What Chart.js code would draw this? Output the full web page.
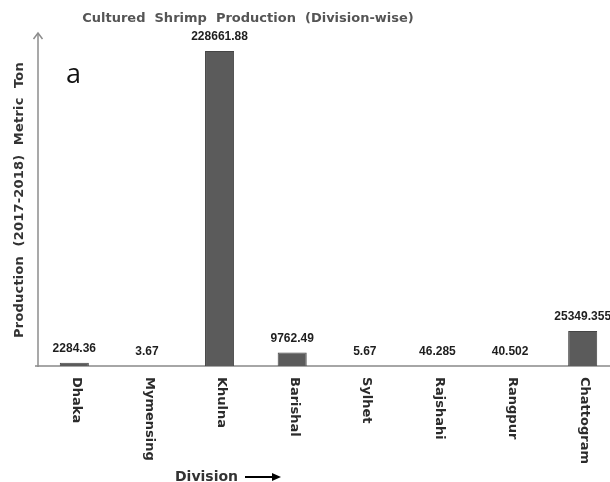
<!DOCTYPE html>
<html lang="en">
<head>
  <meta charset="UTF-8">
  <title>Cultured Shrimp Production (Division-wise)</title>
  <script src="https://cdn.jsdelivr.net/npm/chart.js@4"></script>
  <style>
    body {
      margin: 0;
      padding: 0;
      background-color: #fff;
      overflow: hidden;
    }
    #chart {
      display: block;
    }
  </style>
</head>
<body>
  <canvas id="chart" width="630" height="482"></canvas>

  <script>
    // Dados
    const divisions = ['Dhaka', 'Mymensing', 'Khulna', 'Barishal', 'Sylhet', 'Rajshahi', 'Rangpur', 'Chattogram'];
    const production = [2284.36, 3.67, 228661.88, 9762.49, 5.67, 46.285, 40.502, 25349.355];
    const valueLabels = ['2284.36', '3.67', '228661.88', '9762.49', '5.67', '46.285', '40.502', '25349.355'];

    const titleText = 'Cultured  Shrimp  Production  (Division-wise)';
    const yTitleText = 'Production  (2017-2018)  Metric  Ton';
    const xTitleText = 'Division';
    const panelLetter = 'a';

    const FONT = '"Liberation Sans", Arial, sans-serif';
    const HEAVY = '"DejaVu Sans", sans-serif';

    // Plugin para desenhar eixos, rótulos e textos
    const decorations = {
      id: 'decorations',
      beforeDatasetsDraw(chart) {
        const ctx = chart.ctx;
        const area = chart.chartArea;
        ctx.save();
        // linha de base (eixo x)
        ctx.strokeStyle = '#a6a6a6';
        ctx.lineWidth = 2;
        ctx.beginPath();
        ctx.moveTo(area.left - 3, area.bottom);
        ctx.lineTo(chart.width, area.bottom);
        ctx.stroke();
        ctx.restore();
      },
      afterDatasetsDraw(chart) {
        const ctx = chart.ctx;
        const area = chart.chartArea;
        const xScale = chart.scales.x;
        const meta = chart.getDatasetMeta(0);

        ctx.save();
        // eixo y com seta
        ctx.strokeStyle = '#8c8c8c';
        ctx.lineWidth = 1.5;
        ctx.beginPath();
        ctx.moveTo(area.left, area.bottom + 1);
        ctx.lineTo(area.left, area.top);
        ctx.stroke();
        ctx.beginPath();
        ctx.moveTo(area.left - 4.5, area.top + 6);
        ctx.lineTo(area.left, area.top);
        ctx.lineTo(area.left + 4.5, area.top + 6);
        ctx.stroke();

        // valores acima das barras
        ctx.fillStyle = '#1e1e1e';
        ctx.font = 'bold 12px ' + FONT;
        ctx.textAlign = 'center';
        ctx.textBaseline = 'middle';
        meta.data.forEach((bar, i) => {
          ctx.fillText(valueLabels[i], bar.x, bar.y - 14);
        });

        // rótulos das categorias (rotacionados no sentido horário)
        ctx.fillStyle = '#2b2b2b';
        ctx.font = 'bold 13px ' + HEAVY;
        ctx.textAlign = 'left';
        ctx.textBaseline = 'middle';
        divisions.forEach((name, i) => {
          const x = xScale.getPixelForValue(i);
          ctx.save();
          ctx.translate(x + 2, area.bottom + 11);
          ctx.rotate(Math.PI / 2);
          ctx.fillText(name, 0, 0);
          ctx.restore();
        });

        // título do eixo y
        ctx.fillStyle = '#333';
        ctx.font = 'bold 13px ' + HEAVY;
        ctx.letterSpacing = '0.2px';
        ctx.textAlign = 'center';
        ctx.save();
        ctx.translate(20, 200);
        ctx.rotate(-Math.PI / 2);
        ctx.fillText(yTitleText, 0, 0);
        ctx.restore();

        // título do eixo x com seta
        ctx.letterSpacing = '0px';
        ctx.font = 'bold 14px ' + HEAVY;
        ctx.textAlign = 'left';
        ctx.fillText(xTitleText, 175, 477);
        ctx.strokeStyle = '#000';
        ctx.lineWidth = 2;
        ctx.beginPath();
        ctx.moveTo(245, 477);
        ctx.lineTo(274, 477);
        ctx.stroke();
        ctx.fillStyle = '#000';
        ctx.beginPath();
        ctx.moveTo(281, 477);
        ctx.lineTo(272, 473);
        ctx.lineTo(272, 481);
        ctx.closePath();
        ctx.fill();

        // título principal
        ctx.fillStyle = '#555';
        ctx.font = 'bold 13px ' + HEAVY;
        ctx.textAlign = 'center';
        ctx.fillText(titleText, 248, 19);

        // letra do painel
        ctx.fillStyle = '#111';
        ctx.font = '27px "Open Sans", sans-serif';
        ctx.textAlign = 'left';
        ctx.fillText(panelLetter, 66, 75);
        ctx.restore();
      }
    };

    const ctx = document.getElementById('chart').getContext('2d');
    const chart = new Chart(ctx, {
      type: 'bar',
      data: {
        labels: divisions,
        datasets: [{
          label: 'Production',
          data: production,
          backgroundColor: '#5b5b5b',
          borderColor: '#454545',
          borderWidth: 1,
          barPercentage: 0.4,
          categoryPercentage: 1.0
        }]
      },
      options: {
        responsive: false,
        animation: false,
        devicePixelRatio: 1,
        layout: {
          padding: { left: 38, top: 33, right: 11, bottom: 116 }
        },
        plugins: {
          legend: { display: false },
          title: { display: false },
          tooltip: { enabled: false }
        },
        scales: {
          x: { display: false },
          y: { display: false, min: 0, max: 241700 }
        }
      },
      plugins: [decorations]
    });
  </script>
</body>
</html>
